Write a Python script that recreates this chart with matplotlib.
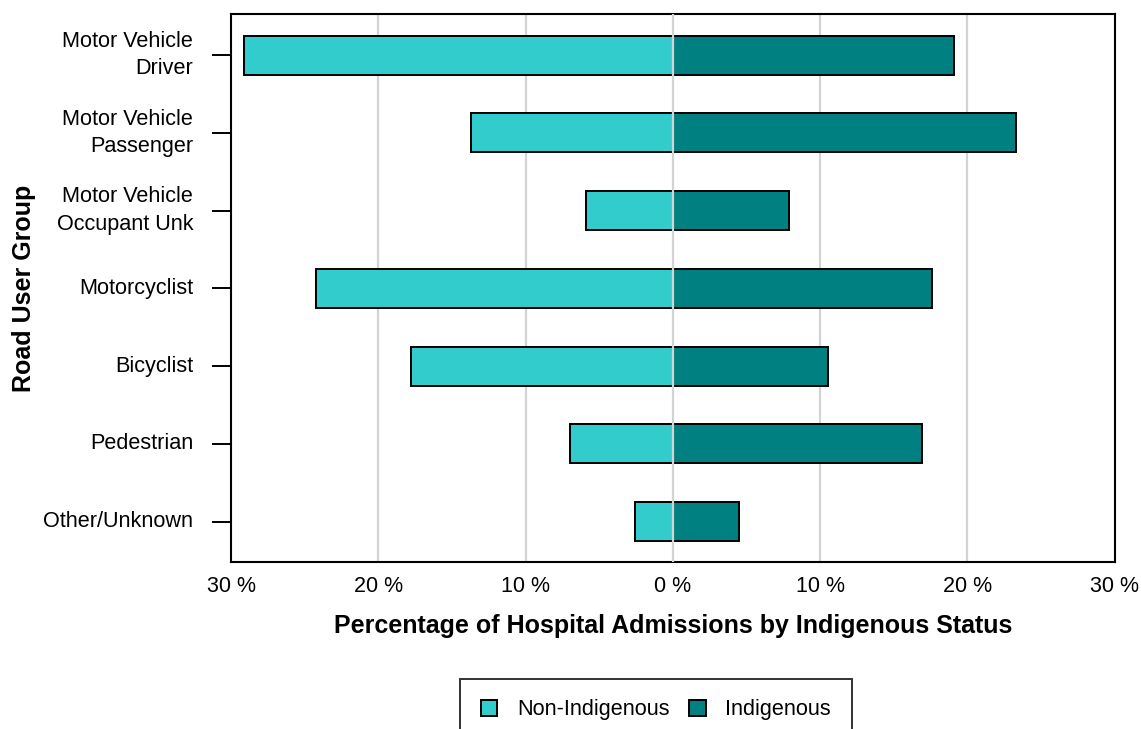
import numpy as np
import matplotlib.pyplot as plt
from matplotlib.ticker import FuncFormatter

plt.rcParams['font.family'] = ['Liberation Sans', 'DejaVu Sans']

# ── Data ──────────────────────────────────────────────────────────────────────

GROUPS = ["Motor Vehicle\nDriver", "Motor Vehicle\nPassenger", "Motor Vehicle\nOccupant Unk",
          "Motorcyclist", "Bicyclist", "Pedestrian", "Other/Unknown"]
NON_INDIG = [29.1, 13.7, 5.9, 24.2, 17.8, 7.0, 2.6]
INDIG     = [19.1, 23.3, 7.9, 17.6, 10.5, 16.9, 4.5]
XTICKS    = [-30, -20, -10, 0, 10, 20, 30]

C_NON = "#33CCCC"
C_IND = "#008080"

# ── Plot ──────────────────────────────────────────────────────────────────────

fig = plt.figure(figsize=(11.41, 7.29), dpi=100)
ax = fig.add_axes([0.2025, 0.229, 0.7745, 0.752])

y = np.arange(len(GROUPS))
ax.barh(y, -np.array(NON_INDIG), height=0.5, color=C_NON, edgecolor="black",
        lw=1.4, label="Non-Indigenous", zorder=2)
ax.barh(y, INDIG, height=0.5, color=C_IND, edgecolor="black",
        lw=1.4, label="Indigenous", zorder=2)

for xv in XTICKS[1:-1]:
    ax.axvline(xv, color="#d3d3d3", lw=1.6, zorder=3 if xv == 0 else 1)

ax.set_xlim(-30, 30)
ax.set_ylim(len(GROUPS) - 0.48, -0.53)
ax.set_yticks(y)
ax.set_yticklabels(GROUPS, fontsize=15.6, linespacing=1.4)
for lab in ax.get_yticklabels():
    lab.set_verticalalignment("center")
ax.set_xticks(XTICKS)
ax.xaxis.set_major_formatter(FuncFormatter(lambda v, p: f"{abs(v):.0f} %"))
ax.tick_params(axis="x", length=0, labelsize=15.5, pad=10)
ax.tick_params(axis="y", length=13.7, width=1.4, pad=13.5)
for s in ax.spines.values():
    s.set_linewidth(1.5)

ax.set_xlabel("Percentage of Hospital Admissions by Indigenous Status",
              fontsize=18, fontweight="bold", labelpad=12.5)
ax.set_ylabel("Road User Group", fontsize=18, fontweight="bold", labelpad=5)

leg = fig.legend(loc="upper center", bbox_to_anchor=(0.575, 0.069), ncol=2,
                 fontsize=15.6, frameon=True, fancybox=False, edgecolor="black",
                 handlelength=0.74, handleheight=0.74, handletextpad=0.92,
                 columnspacing=0.92, borderpad=0.95, borderaxespad=0)
leg.get_frame().set_linewidth(1.4)

fig.savefig("out.png", dpi=100)
